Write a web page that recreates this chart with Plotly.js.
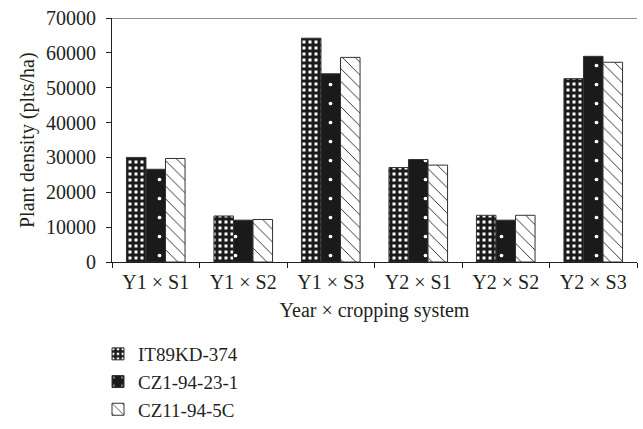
<!DOCTYPE html>
<html><head><meta charset="utf-8">
<script src="https://cdn.plot.ly/plotly-3.0.1.min.js"></script>
<style>body{margin:0;background:#fff}#c{width:643px;height:429px}</style>
</head><body><div id="c"></div>
<script>
var categories = ["Y1 × S1","Y1 × S2","Y1 × S3","Y2 × S1","Y2 × S2","Y2 × S3"];
var seriesNames = ["IT89KD-374","CZ1-94-23-1","CZ11-94-5C"];
var it89 = [30000,13200,64200,27100,13400,52600];
var cz1 = [26600,12000,54000,29400,12000,59000];
var cz11 = [29700,12200,58700,27800,13400,57300];
var yTicks = [0,10000,20000,30000,40000,50000,60000,70000];
var yTitle = "Plant density (plts/ha)";
var xTitle = "Year × cropping system";

var ink = "#231f20";
var font = {family:"Liberation Serif, Times New Roman, serif", size:20, color:ink};
var legendFont = {family:"Liberation Serif, Times New Roman, serif", size:19, color:ink};
var line = {color:"#333", width:1};
var traces = [
 {type:"bar", name:seriesNames[0], x:categories, y:it89,
  marker:{color:"#fff", line:line, pattern:{shape:"+", fgcolor:"#1a1a1a", bgcolor:"#fff", size:6, solidity:0.75}}},
 {type:"bar", name:seriesNames[1], x:categories, y:cz1,
  marker:{color:"#1a1a1a", line:line, pattern:{shape:".", fgcolor:"#fff", bgcolor:"#1a1a1a", size:19, solidity:0.03}}},
 {type:"bar", name:seriesNames[2], x:categories, y:cz11,
  marker:{color:"#fff", line:line, pattern:{shape:"\\", fgcolor:"#222", bgcolor:"#fff", size:9, solidity:0.1}}}
];
var layout = {
 width:643, height:429, margin:{l:112,r:6,t:18,b:167,autoexpand:false},
 paper_bgcolor:"#fff", plot_bgcolor:"#fff", font:font,
 barmode:"group", bargap:0.33, bargroupgap:0,
 xaxis:{type:"category", showline:true, linecolor:ink, linewidth:1, ticks:"outside", tickson:"boundaries", ticklen:5, tickcolor:ink,
   ticklabelstandoff:2, showgrid:false, title:{text:xTitle, font:font, standoff:10}},
 yaxis:{range:[0,70000], tickvals:yTicks, ticktext:yTicks.map(String), showline:true, linecolor:ink, linewidth:1, ticks:"outside", ticklen:5, tickcolor:ink,
   ticklabelstandoff:6, showgrid:false, zeroline:false},
 annotations:[{text:yTitle, xref:"paper", yref:"paper", x:(27-112)/525, y:0.5, xanchor:"center", yanchor:"middle", textangle:-90, showarrow:false, font:font}],
 shapes:[{type:"line", xref:"paper", yref:"y", x0:0, x1:1, y0:70000, y1:70000, line:{color:ink, width:1}}],
 legend:{xref:"container", yref:"container", x:98/643, y:0, xanchor:"left", yanchor:"bottom", orientation:"v", font:legendFont, tracegroupgap:0, itemwidth:30, traceorder:"normal"},
 showlegend:true
};
Plotly.newPlot("c", traces, layout, {displayModeBar:false, staticPlot:true});
</script></body></html>
